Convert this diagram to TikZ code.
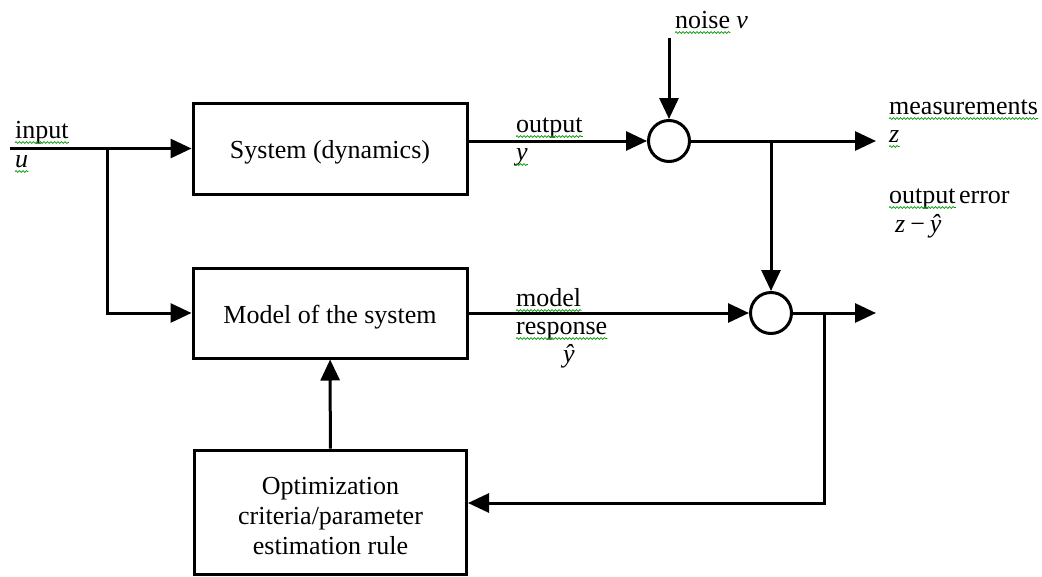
\documentclass[tikz,border=0pt]{standalone}
\usepackage{fontspec}
\setmainfont{Liberation Serif}
\usetikzlibrary{arrows.meta,decorations.pathmorphing,calc}
\begin{document}
\begin{tikzpicture}[x=1pt,y=-1pt,
  every node/.style={font=\fontsize{26}{30}\selectfont},
  block/.style={draw, line width=3pt, inner sep=0pt},
  caption/.style={label={[align=center, yshift=-4pt]center:#1}},
  flow/.style={line width=3pt, -{Triangle[length=21pt,width=19pt]}},
  junction/.style={draw, circle, line width=3pt, minimum size=41pt, inner sep=0pt},
  lbl/.style={anchor=base west, inner sep=0pt},
  spell/.style={draw=green!60!black, line width=0.7pt, decorate,
    decoration={snake, segment length=3.5pt, amplitude=0.9pt}}
]
\useasboundingbox (0,0) rectangle (1042,576);

% blocks
\node[block, minimum width=274pt, minimum height=91pt,
      caption={System (dynamics)}] (sys) at (330,148.5) {};
\node[block, minimum width=274pt, minimum height=90pt,
      caption={Model of the system}] (mdl) at (330,313) {};
\node[block, minimum width=272pt, minimum height=124pt,
      caption={Optimization\\criteria/parameter\\estimation rule}] (opt) at (330.5,512) {};

% summing junctions
\node[junction] (s1) at (669,141) {};
\node[junction] (s2) at (771,313) {};

% free ends and branch points
\coordinate (in) at (10,148.5);
\coordinate (br) at (107,148.5);
\coordinate (noise) at (669,38);
\coordinate (zout) at (876,141);
\coordinate (tap) at (771,141);
\coordinate (eout) at (876,313);
\coordinate (fb) at (824,313);

% signal flow
\draw[flow] (in) -- (sys.west);
\draw[flow] (br) |- (mdl.west);
\draw[flow] (sys.east |- s1) -- (s1);
\draw[flow] (noise) -- (s1);
\draw[flow] (s1) -- (zout);
\draw[flow] (tap) -- (s2);
\draw[flow] (mdl.east) -- (s2);
\draw[flow] (s2) -- (eout);
\draw[flow] (fb) |- ([yshift=9pt]opt.east);
\draw[flow] (opt) -- (mdl);

% signal labels
\node[lbl] (tin) at (15,138) {input};
\node[lbl] (tu) at (15,167) {\textit{u}};
\node[lbl] (tout) at (516,132) {output};
\node[lbl] (ty) at (516,160) {\textit{y}};
\node[lbl] (tnoise) at (675,28) {noise};
\node[lbl] (tv) at ([xshift=6pt]tnoise.base east) {\textit{v}};
\node[lbl] (tmeas) at (889,114) {measurements};
\node[lbl] (tz) at (889,142) {\textit{z}};
\node[lbl] (terr) at (889,203) {output};
\node[lbl] (terr2) at ([xshift=3pt]terr.base east) {error};
\node[lbl] (tdiff) at (895,232) {\textit{z}\kern5pt−\kern5pt\textit{\^y}};
\node[lbl] (tmod) at (516,306) {model};
\node[lbl] (tresp) at (516,334) {response};
\node[lbl] (tyh) at (563,362) {\textit{\^y}};

% proofing marks under words
\foreach \w in {tin,tu,tout,ty,tnoise,tmeas,tz,terr,tmod,tresp}{
  \draw[spell] ($(\w.base west)+(0,4.5)$) -- ($(\w.base east)+(0,4.5)$);
}
\end{tikzpicture}
\end{document}
